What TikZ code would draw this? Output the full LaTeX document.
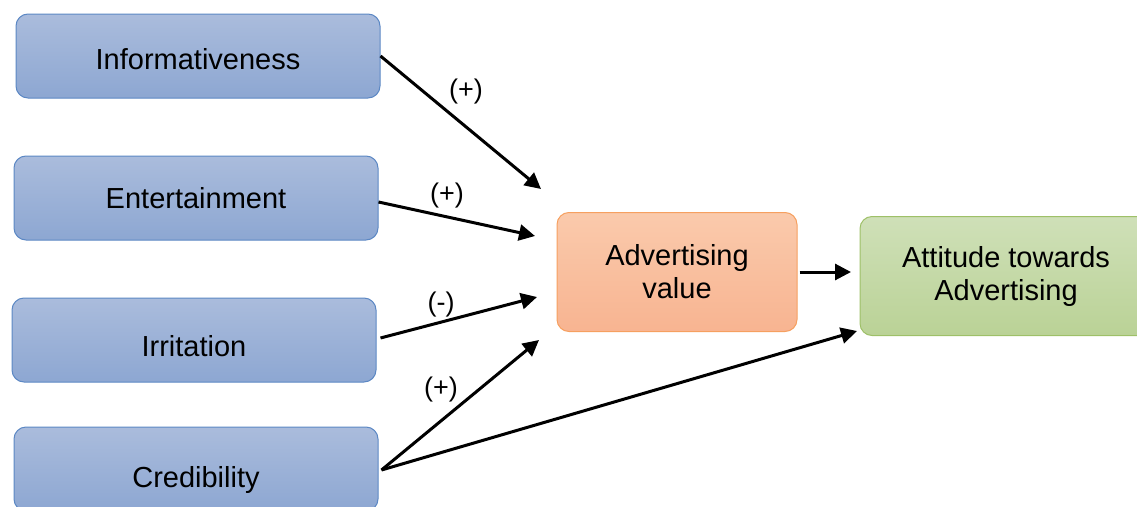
\documentclass[tikz,border=0pt]{standalone}
\usepackage{fontspec}
\setmainfont{Liberation Sans}
\usetikzlibrary{arrows.meta}
\definecolor{factor-top}{RGB}{170,188,220}
\definecolor{factor-bottom}{RGB}{141,167,210}
\definecolor{factor-edge}{RGB}{92,136,196}
\definecolor{value-top}{RGB}{250,202,172}
\definecolor{value-bottom}{RGB}{248,180,145}
\definecolor{value-edge}{RGB}{246,160,96}
\definecolor{attitude-top}{RGB}{207,224,184}
\definecolor{attitude-bottom}{RGB}{186,210,150}
\definecolor{attitude-edge}{RGB}{158,192,104}
\tikzstyle{roundbox}=[rounded corners=12pt,line width=1pt,align=center,inner sep=0pt,font=\fontsize{29}{33}\selectfont]
\tikzstyle{factorbox}=[roundbox,draw=factor-edge,top color=factor-top,bottom color=factor-bottom,minimum width=364pt,minimum height=84pt]
\tikzstyle{valuebox}=[roundbox,draw=value-edge,top color=value-top,bottom color=value-bottom,minimum width=240pt,minimum height=119pt]
\tikzstyle{attitudebox}=[roundbox,draw=attitude-edge,top color=attitude-top,bottom color=attitude-bottom,minimum width=292pt,minimum height=119pt]
\tikzstyle{effectarrow}=[line width=3pt,-{Triangle[length=16pt,width=16pt]}]
\newcommand{\signlabel}[2]{
	\node[font=\fontsize{27}{30}\selectfont] at (#1) {#2};
}

\begin{document}
\begin{tikzpicture}[x=1pt,y=-1pt]
\clip (0,0) rectangle (1137,506);
% antecedents
\node[factorbox,text height=27pt,text depth=0pt] (info) at (198,56) {Informativeness};
\node[factorbox] (ent) at (196,198) {Entertainment};
\node[factorbox,text height=33pt,text depth=0pt] (irr) at (194,340) {Irritation};
\node[factorbox,text height=43pt,text depth=6pt] (cred) at (196,469) {Credibility};
% mediator and outcome
\node[valuebox] (adv) at (677,272) {Advertising\\value};
\node[attitudebox] (att) at (1006,276) {Attitude towards\\Advertising};
% arrow tips
\coordinate (infoTip) at (541,189);
\coordinate (entTip) at (535,236);
\coordinate (irrTip) at (537,297);
\coordinate (credTip) at (539,340);
\coordinate (credAttTip) at (857,331);
\coordinate (advTip) at (851,272);
% paths
\draw[effectarrow] (info.east) -- (infoTip);
\draw[effectarrow] (ent.east) ++(0,4) -- (entTip);
\draw[effectarrow] (irr.east) ++(4,-2) -- (irrTip);
\draw[effectarrow] (cred.east) ++(3,1) -- (credTip);
\draw[effectarrow] (cred.east) ++(3,1) -- (credAttTip);
\draw[effectarrow] (adv.east) ++(2,0) -- (advTip);
% signs
\signlabel{466,92}{(+)}
\signlabel{447,196}{(+)}
\signlabel{441,305}{(-)}
\signlabel{441,390}{(+)}
\end{tikzpicture}
\end{document}
